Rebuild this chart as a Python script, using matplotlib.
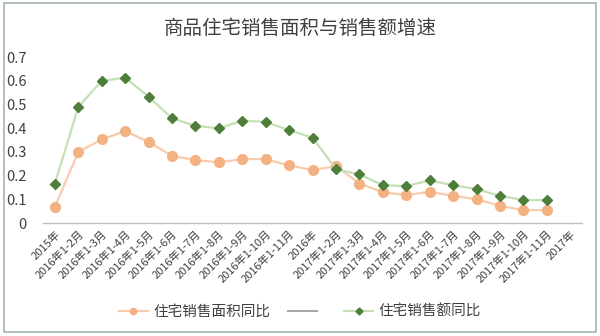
import matplotlib
matplotlib.use("Agg")
import matplotlib.pyplot as plt
from matplotlib.patches import Rectangle

plt.rcParams['font.family'] = ['Noto Sans CJK SC', 'DejaVu Sans']

categories = ['2015年',
              '2016年1-2月', '2016年1-3月', '2016年1-4月', '2016年1-5月', '2016年1-6月',
              '2016年1-7月', '2016年1-8月', '2016年1-9月', '2016年1-10月', '2016年1-11月',
              '2016年',
              '2017年1-2月', '2017年1-3月', '2017年1-4月', '2017年1-5月', '2017年1-6月',
              '2017年1-7月', '2017年1-8月', '2017年1-9月', '2017年1-10月', '2017年1-11月',
              '2017年']

# 住宅销售面积同比
area_yoy = [0.069, 0.30, 0.353, 0.388, 0.342, 0.283, 0.266, 0.256, 0.27, 0.27, 0.243,
            0.224, 0.24, 0.167, 0.13, 0.118, 0.132, 0.115, 0.101, 0.073, 0.055, 0.055]
# 住宅销售额同比
sales_yoy = [0.167, 0.49, 0.60, 0.613, 0.533, 0.442, 0.41, 0.40, 0.432, 0.427, 0.392,
             0.36, 0.228, 0.205, 0.16, 0.156, 0.18, 0.16, 0.143, 0.115, 0.097, 0.097]

yticks = [0, 0.1, 0.2, 0.3, 0.4, 0.5, 0.6, 0.7]

fig = plt.figure(figsize=(6, 3.36), dpi=100)
ax = fig.add_axes([0.072, 0.336, 0.898, 0.494])

x = list(range(len(area_yoy)))
ax.plot(x, area_yoy, color='#F8CBAD', lw=1.6, marker='o', ms=7,
        mfc='#F4B183', mec='#F4B183', label='住宅销售面积同比', zorder=3)
ax.plot([], [], color='#A6A6A6', lw=1.4, label=' ')
ax.plot(x, sales_yoy, color='#C5E0B4', lw=1.6, marker='D', ms=5.5,
        mfc='#4E7F3A', mec='#4E7F3A', label='住宅销售额同比', zorder=4)

ax.set_xlim(-0.5, len(categories) - 0.5)
ax.set_ylim(0, 0.7)
ax.set_yticks(yticks)
ax.set_yticklabels([f'{v:g}' for v in yticks], fontsize=10.5, color='#404040')
ax.set_xticks(range(len(categories)))
ax.set_xticklabels(categories, rotation=45, ha='right', rotation_mode='anchor',
                   fontsize=8, color='#404040')
ax.tick_params(axis='both', length=0, pad=4)
ax.tick_params(axis='y', pad=12)
for s in ['top', 'right', 'left']:
    ax.spines[s].set_visible(False)
ax.spines['bottom'].set_color('#BFBFBF')
ax.spines['bottom'].set_linewidth(1.0)

fig.text(0.5, 1 - 28 / 336, '商品住宅销售面积与销售额增速', ha='center', va='center',
         fontsize=14, color='#404040')

leg = fig.legend(loc='center', bbox_to_anchor=(0.5, 1 - 312 / 336), ncol=3,
                 frameon=False, fontsize=10.5, handlelength=2.0, columnspacing=1.2,
                 handletextpad=0.4, markerscale=0.65, labelcolor='#404040')

# outer chart border
fig.patches.append(Rectangle((0.006, 0.012), 0.988, 0.978, transform=fig.transFigure,
                             fill=False, edgecolor='#A5B3B3', lw=1.2))

fig.savefig('out.png', dpi=100)
